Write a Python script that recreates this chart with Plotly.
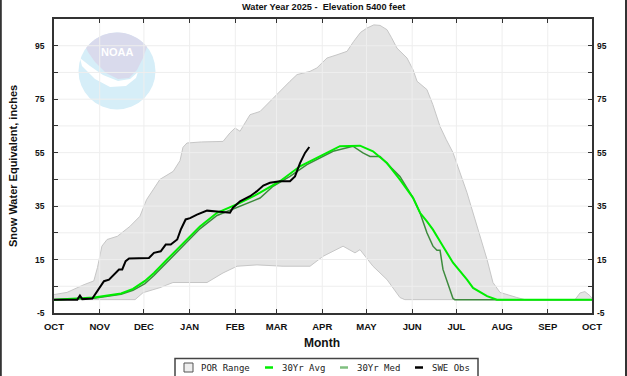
import math
import plotly.graph_objects as go

# ---------------- data ----------------
month_days = [0, 31, 61, 92, 123, 151, 182, 212, 243, 273, 304, 335, 365]
month_labels = ["OCT", "NOV", "DEC", "JAN", "FEB", "MAR", "APR", "MAY", "JUN", "JUL", "AUG", "SEP", "OCT"]
y_ticks = [-5, 5, 15, 25, 35, 45, 55, 65, 75, 85, 95, 105]
y_labels = ["-5", "", "15", "", "35", "", "55", "", "75", "", "95", ""]

# (day of water year, SWE inches)
por_max = [(0, 1.9), (8.8, 2.7), (20.4, 5.6), (27, 7), (29.5, 12), (32.5, 20), (36, 22.5),
           (43, 23.7), (51.5, 27.4), (58.3, 31.2), (62.8, 37.4), (71.9, 45), (80.9, 48),
           (85.5, 52), (87.5, 57), (90.2, 58.6), (100, 59), (114.7, 59.2), (119.4, 62.4),
           (122.8, 64.2), (126.2, 63), (133, 69.2), (139.8, 70.4), (146.5, 74.2),
           (153.3, 77.9), (160.1, 81.7), (164.9, 84.2), (173.7, 85.4), (178.4, 86.7),
           (185.2, 90.4), (192, 91.6), (198.8, 92.9), (203.3, 96.6), (208, 100),
           (212.3, 101.6), (217, 102.8), (221.2, 102.6), (225.9, 101), (229, 98),
           (232.7, 94.1), (239.5, 90.4), (243.6, 86), (246.3, 81.7), (253, 78.6),
           (257, 73), (261.9, 64.8), (266, 60), (270.7, 55), (280.2, 40), (287, 27.4),
           (293.8, 15), (297.8, 6.4), (302.6, 2.7), (314, 0.8), (319.5, 0), (353.5, 0),
           (356.9, 2.5), (360.2, 3), (363.6, 1.5), (365, 0.5)]
por_min = [(0, 0), (55, 0), (60.4, 2.6), (71.9, 4.5), (80.7, 6.4), (103.8, 6.4),
           (114.7, 10), (124.2, 12.5), (137.7, 13), (155.4, 12.5), (173.7, 12.5),
           (182.5, 16.2), (196.1, 20), (204.2, 17.5), (207.6, 18.7), (216.4, 12.5),
           (225.9, 7.5), (234.7, 0.8), (238, 0), (365, 0)]
avg_30yr = [(0, 0), (27.1, 0.8), (45.5, 2.3), (53.6, 4), (61.7, 7), (67.8, 10), (76.7, 15),
            (85.5, 20), (92.3, 23.5), (99, 27.4), (110.6, 32.5), (126.2, 36.2), (139.8, 40),
            (153.3, 44.3), (166.9, 49.9), (180.5, 53.6), (194, 57.4), (207.6, 57.6),
            (216.4, 55.5), (225.9, 51.1), (234.7, 44.9), (243.6, 38.1), (248.3, 32.5),
            (253, 29.3), (257.1, 26.2), (263.9, 20), (270.7, 13.8), (280.2, 7.5),
            (284.3, 4.4), (293.8, 1.3), (300.5, 0), (365, 0)]
med_30yr = [(0, 0), (27.1, 0.5), (45.5, 2), (53.6, 3.5), (61.7, 6), (67.8, 9), (76.7, 14),
            (85.5, 19), (92.3, 22.5), (99, 26.5), (110.6, 31.5), (126.2, 34.9), (139.8, 38),
            (148.6, 42.4), (160.1, 46.1), (171.6, 50.5), (189.3, 55.5), (202.8, 57.4),
            (209.6, 54.9), (214.4, 53.6), (221.2, 53.6), (234.7, 46.1), (243.6, 38.1),
            (248.3, 32.5), (253, 25), (257.1, 20), (259.8, 18.5), (261.9, 18.5),
            (263.9, 11.3), (270.7, 0.4), (272, 0), (365, 0)]
swe_obs = [(0, 0), (15.8, 0), (17.6, 1.5), (19.2, 0.2), (26, 0.4), (29.4, 3.2), (33.9, 6.9),
           (37.3, 7.5), (39.6, 8.8), (44.1, 11.3), (46.3, 11.3), (48.6, 14.4), (50.9, 15.4),
           (61.1, 15.4), (64.4, 15.6), (67.8, 17.5), (72.4, 18.1), (75.8, 20.6), (79.2, 20.6),
           (83.6, 22.5), (86, 26.2), (89.3, 30), (92.3, 30.5), (97, 31.8), (103.8, 33.3),
           (110.6, 33), (119.4, 32.5), (121.4, 34.4), (126.2, 36.8), (133, 38.7),
           (137.5, 40.5), (142, 42.7), (146.5, 43.7), (153.3, 44.3), (160.1, 44.3),
           (163.5, 46.1), (166.9, 51.1), (170.3, 54.9), (173.2, 57.1)]

# ---------------- geometry helpers (pixel -> paper) ----------------
W, H = 627, 376
L, R, T, B = 54, 592, 19, 313


def px(x):
    return (x - L) / (R - L)


def py(y):
    return (B - y) / (B - T)


def xs(s):
    return [p[0] for p in s]


def ys(s):
    return [p[1] for p in s]


fig = go.Figure()

# POR range polygon (max forward, min backward)
poly_x = xs(por_max) + xs(por_min)[::-1]
poly_y = ys(por_max) + ys(por_min)[::-1]
fig.add_trace(go.Scatter(x=poly_x, y=poly_y, fill="toself", fillcolor="#e4e4e4",
                         line=dict(color="#c6c6c6", width=1), mode="lines",
                         hoverinfo="skip", showlegend=False, yaxis="y"))

# grid lines drawn above the POR fill
gx, gy = [], []
for d in month_days[1:-1]:
    gx += [d, d, None]
    gy += [y_ticks[0], y_ticks[-1], None]
for v in y_ticks[1:-1]:
    gx += [month_days[0], month_days[-1], None]
    gy += [v, v, None]
fig.add_trace(go.Scatter(x=gx, y=gy, mode="lines", line=dict(color="#eeeeee", width=1),
                         hoverinfo="skip", showlegend=False, yaxis="y"))

fig.add_trace(go.Scatter(x=xs(med_30yr), y=ys(med_30yr), mode="lines", name="30Yr Med",
                         line=dict(color="#3d8b3d", width=1.5), yaxis="y2", showlegend=False))
fig.add_trace(go.Scatter(x=xs(avg_30yr), y=ys(avg_30yr), mode="lines", name="30Yr Avg",
                         line=dict(color="#00ee00", width=2), yaxis="y2", showlegend=False))
fig.add_trace(go.Scatter(x=xs(swe_obs), y=ys(swe_obs), mode="lines", name="SWE Obs",
                         line=dict(color="#000000", width=2), yaxis="y2", showlegend=False))

tickfont = dict(family="Liberation Sans, Arial", size=8.5, color="#111", weight="bold")

fig.update_layout(
    width=W, height=H, autosize=False,
    margin=dict(l=L, r=W - R, t=T, b=H - B, pad=0),
    paper_bgcolor="white", plot_bgcolor="white",
    xaxis=dict(range=[0, 365], tickmode="array", tickvals=month_days, ticktext=month_labels,
               ticks="inside", ticklen=4, tickcolor="#333", showline=True, linecolor="#333",
               linewidth=1.5, mirror="ticks", showgrid=False, zeroline=False,
               tickfont=dict(family="Liberation Sans, Arial", size=9.5, color="#111", weight="bold"),
               ticklabelstandoff=4),
    yaxis=dict(range=[-5, 105], tickmode="array", tickvals=y_ticks, ticktext=y_labels,
               ticks="inside", ticklen=4, tickcolor="#333", showline=True, linecolor="#333",
               linewidth=1.5, mirror="ticks", showgrid=False, zeroline=False,
               tickfont=tickfont, ticklabelstandoff=6),
    yaxis2=dict(range=[-5, 105], tickmode="array", tickvals=y_ticks, ticktext=y_labels,
                overlaying="y", side="right", ticks="", showline=False, showgrid=False,
                zeroline=False, tickfont=tickfont, ticklabelstandoff=4),
    showlegend=False,
)

shapes = []
annos = []

# NOAA logo (faint)
cx, cy, r = 117, 71, 38.5
shapes.append(dict(type="circle", xref="paper", yref="paper", layer="below",
                   x0=px(cx - r), x1=px(cx + r), y0=py(cy + r), y1=py(cy - r),
                   fillcolor="#d6eef8", line=dict(width=0)))


def path_from(points):
    return "M " + " L ".join(f"{px(a):.4f},{py(b):.4f}" for a, b in points) + " Z"


arc = []
a0 = math.degrees(math.atan2(71 - 48, 86 - 117))
a1 = math.degrees(math.atan2(71 - 47, 147 - 117))
steps = 24
for i in range(steps + 1):
    ang = math.radians(a0 + (a1 - a0) * i / steps)
    arc.append((cx + r * math.cos(ang), cy - r * math.sin(ang)))
lav = arc + [(143, 58), (137, 70), (129, 78), (118, 79), (106, 73), (95, 62), (88, 52)]
shapes.append(dict(type="path", xref="paper", yref="paper", layer="below",
                   path=path_from(lav), fillcolor="#d9daec", line=dict(width=0)))
swoosh = [(80, 58), (90, 66), (103, 75), (118, 81), (130, 79), (138, 72), (136, 78),
          (126, 86), (110, 87), (95, 79), (82, 66)]
shapes.append(dict(type="path", xref="paper", yref="paper", layer="below",
                   path=path_from(swoosh), fillcolor="#ffffff", line=dict(width=0)))
annos.append(dict(text="<b>NOAA</b>", xref="paper", yref="paper", x=px(117), y=py(52.5),
                  showarrow=False, font=dict(family="Liberation Sans, Arial", size=11, color="white"),
                  xanchor="center", yanchor="middle"))

# titles
annos.append(dict(text="Water Year 2025 -\u00a0 Elevation 5400 feet", xref="paper", yref="paper",
                  x=px(323), y=py(7), showarrow=False, xanchor="center", yanchor="middle",
                  font=dict(family="Liberation Sans, Arial", size=9.2, color="#111", weight="bold")))
annos.append(dict(text="Snow Water Equivalent, inches", xref="paper", yref="paper",
                  x=px(13), y=py(166), showarrow=False, textangle=-90, xanchor="center",
                  yanchor="middle",
                  font=dict(family="Liberation Sans, Arial", size=11, color="#111", weight="bold")))
annos.append(dict(text="Month", xref="paper", yref="paper", x=px(322), y=py(343),
                  showarrow=False, xanchor="center", yanchor="middle",
                  font=dict(family="Liberation Sans, Arial", size=12, color="#111", weight="bold")))

# outer frame lines
shapes.append(dict(type="line", xref="paper", yref="paper", x0=px(0.8), x1=px(0.8),
                   y0=py(0), y1=py(H), line=dict(color="#333", width=2)))
shapes.append(dict(type="line", xref="paper", yref="paper", x0=px(626), x1=px(626),
                   y0=py(0), y1=py(H), line=dict(color="#333", width=2)))

# legend
shapes.append(dict(type="rect", xref="paper", yref="paper", x0=px(175), x1=px(478),
                   y0=py(380), y1=py(358.5), fillcolor="white", line=dict(color="#444", width=1.5)))
shapes.append(dict(type="rect", xref="paper", yref="paper", x0=px(184), x1=px(193),
                   y0=py(372), y1=py(363), fillcolor="#eeeeee", line=dict(color="#555", width=1)))
leg_font = dict(family="DejaVu Sans Mono, Liberation Mono", size=9, color="#222")
legend_items = [("POR Range", None, 199), ("30Yr Avg", ("#00ee00", 265, 273), 280),
                ("30Yr Med", ("#7fbf7f", 340, 348), 355), ("SWE Obs", ("#000000", 415, 423), 430)]
for label, seg, tx in legend_items:
    if seg:
        shapes.append(dict(type="line", xref="paper", yref="paper", x0=px(seg[1]), x1=px(seg[2]),
                           y0=py(367.5), y1=py(367.5), line=dict(color=seg[0], width=2.5)))
    annos.append(dict(text=label, xref="paper", yref="paper", x=px(tx), y=py(367.5),
                      showarrow=False, xanchor="left", yanchor="middle", font=leg_font))

fig.update_layout(shapes=shapes, annotations=annos)
fig.write_html("out.html", config={"displayModeBar": False})

# remove the default browser body margin so the figure sits at the page origin
with open("out.html", "r", encoding="utf-8") as f:
    html = f.read()
html = html.replace("<head>", "<head><style>html,body{margin:0;padding:0;overflow:hidden;}</style>", 1)
with open("out.html", "w", encoding="utf-8") as f:
    f.write(html)
